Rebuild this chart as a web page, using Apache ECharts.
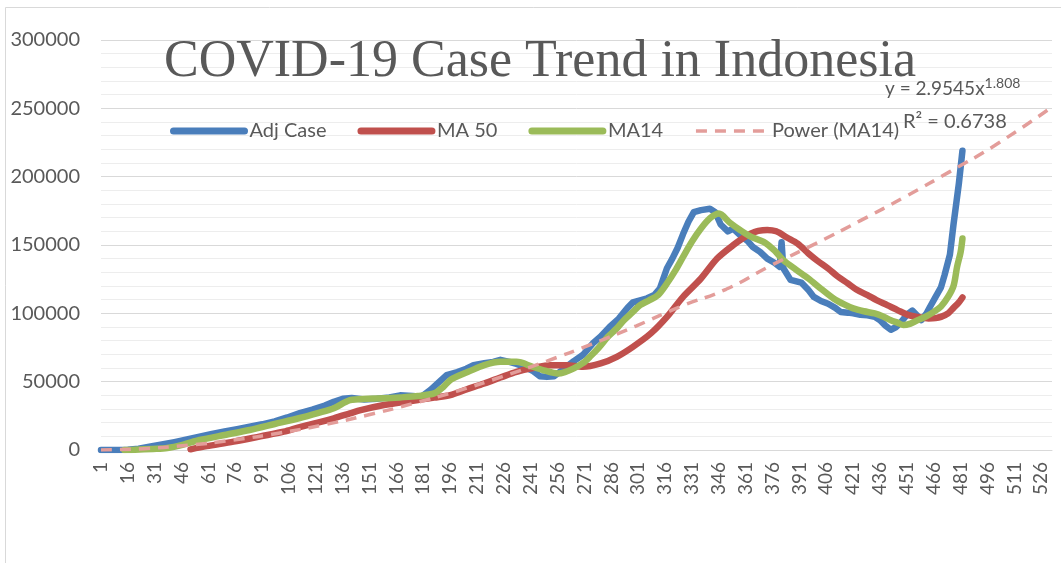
<!DOCTYPE html>
<html>
<head>
<meta charset="utf-8">
<script src="https://cdn.jsdelivr.net/npm/echarts@6/dist/echarts.min.js"></script>
<style>
html,body{margin:0;padding:0;background:#fff;}
#chart{width:1061px;height:563px;}
</style>
</head>
<body>
<div id="chart"></div>
<script>
// ---- data ----
const dayCount = 532; // categories 1..532
const yTicks = [0, 50000, 100000, 150000, 200000, 250000, 300000];

const adjDays = [1,10,16,22,28,35,42,49,56,63,70,77,84,91,98,105,112,119,126,131,136,141,148,155,162,168,175,180,185,190,194,200,205,209,215,220,224,229,233,238,242,246,250,254,258,261,265,270,273,276,280,285,290,295,298,302,306,310,313,317,320,323,326,329,332,336,341,344,347,351,354,358,362,365,369,373,377,380,381,382,386,392,396,399,403,407,411,414,418,421,425,429,433,436,439,442,445,448,451,454,457,459,462,464,467,470,472,475,477,480,482];
const adjCase = [0,0,200,1000,2400,4000,5800,7700,9700,11800,13500,15200,17000,18800,21000,23800,27000,29500,32500,35300,37500,38000,37000,37500,38500,40000,39500,39000,44000,50000,54800,57000,59500,62100,63500,64500,66000,64500,63000,60500,58000,54000,53500,54000,58000,61000,65000,69500,74000,78500,83000,90000,96000,104000,108000,109500,111000,113500,118000,133000,140000,148000,158000,167000,174000,175500,176500,174000,165000,160000,162000,157000,153000,148500,145000,140000,137000,134000,152000,133000,124500,122500,117000,112000,109000,107000,104000,101000,100500,100000,99000,98500,97500,95000,91000,88000,90000,94000,99000,102000,98000,95000,100000,105000,112000,119000,128000,143000,165000,195000,219000];

const ma50Days = [51,60,75,90,103,112,122,131,140,146,159,168,178,187,196,205,215,224,233,242,252,261,270,280,289,298,308,317,326,336,345,354,360,364,368,373,378,384,390,396,401,407,412,418,423,429,434,440,446,452,457,463,467,470,474,477,480,482];
const ma50 = [500,2800,6100,10000,13400,16800,20000,23200,26800,29200,32900,34800,36500,38300,40200,44300,48700,53000,57200,60000,62100,62000,60900,63400,68200,75500,85300,97400,112100,125500,140100,149900,155500,158400,160300,161000,160000,155500,151000,143800,138500,132800,127300,121900,117200,113300,109700,106000,102200,98700,97300,96300,96500,97400,100000,104000,108000,111600];

const ma14Days = [14,20,30,38,47,56,70,84,98,112,122,131,140,150,159,168,178,187,192,196,201,206,215,224,233,242,249,256,260,265,270,274,279,284,289,293,298,302,307,312,317,322,326,331,336,341,346,352,358,364,371,377,382,389,396,403,410,416,421,427,433,438,442,446,449,453,457,462,466,470,474,477,479,481,482];
const ma14 = [0,200,800,1500,4000,7300,11000,14600,19000,23400,27000,30500,36500,37500,37800,38500,39500,41400,46000,51200,54500,57200,62100,64500,64500,60900,58000,56000,57000,59700,63500,68200,75000,82800,89000,95000,101000,106000,109500,113300,121900,132000,141300,152500,162000,169500,173000,166500,160800,155900,152300,146000,138900,132000,125500,118000,110900,106500,103600,101500,99900,97500,95000,93000,91400,92500,95000,98000,101100,105000,112100,120000,134000,145000,154700];

const trendDays = [1,25,50,75,100,125,150,175,200,225,250,275,300,325,350,375,400,425,450,475,500,532];
const trendVals = [0,1000,3500,7300,12300,18300,25600,33900,43200,53700,65100,77500,90900,105200,117600,134900,151000,167800,185300,203700,222800,251000];

const seriesNames = ['Adj Case', 'MA 50', 'MA14', 'Power (MA14)'];
const titleText = 'COVID-19 Case Trend in Indonesia';
const eqLine1 = 'y = 2.9545x';
const eqExp = '1.808';
const eqLine2 = 'R² = 0.6738';

// ---- build ----
const categories = [];
for (let d = 1; d <= dayCount; d++) categories.push(String(d));
function pairs(days, vals) { return days.map((d, i) => [d - 1, vals[i]]); }

const textColor = '#595959';
const chart = echarts.init(document.getElementById('chart'));
chart.setOption({
  animation: false,
  backgroundColor: '#ffffff',
  title: {
    text: titleText,
    left: 159,
    top: 31,
    textStyle: { fontFamily: 'Liberation Serif', fontSize: 52, fontWeight: 'normal', color: textColor }
  },
  legend: {
    data: [
      { name: seriesNames[0] },
      { name: seriesNames[1] },
      { name: seriesNames[2] },
      { name: seriesNames[3], lineStyle: { width: 3.5, cap: 'butt' } }
    ],
    left: 165,
    top: 116,
    itemWidth: 71,
    itemHeight: 8,
    itemGap: 31,
    itemStyle: { opacity: 0 },
    lineStyle: { width: 7, cap: 'round' },
    textStyle: { fontFamily: 'Lato', fontSize: 20, color: textColor }
  },
  grid: { left: 101, right: 9, top: 40, bottom: 113, containLabel: false },
  xAxis: {
    type: 'category',
    data: categories,
    boundaryGap: false,
    axisLine: { lineStyle: { color: '#D9D9D9', width: 1 } },
    axisTick: { show: false },
    axisLabel: { interval: 14, rotate: 90, margin: 12, fontFamily: 'Lato', fontSize: 19, color: textColor }
  },
  yAxis: {
    type: 'value',
    min: yTicks[0],
    max: yTicks[yTicks.length - 1],
    interval: yTicks[1] - yTicks[0],
    axisLine: { show: false },
    axisTick: { show: false },
    axisLabel: { margin: 21, fontFamily: 'Lato', fontSize: 20, color: textColor, formatter: v => String(v) },
    splitLine: { lineStyle: { color: '#D9D9D9', width: 1 } },
    minorTick: { show: false, splitNumber: 5 },
    minorSplitLine: { show: true, lineStyle: { color: '#EDEDED', width: 1 } }
  },
  graphic: [
    { type: 'rect', shape: { x: 5.5, y: 7.5, width: 1100, height: 600 }, style: { fill: 'none', stroke: '#D9D9D9', lineWidth: 1 }, silent: true, z: -10 },
    { type: 'text', left: 885, top: 76, style: {
        text: '{a|' + eqLine1 + '}{s|' + eqExp + '}',
        rich: { a: { fontFamily: 'Lato', fontSize: 19, fill: textColor, color: textColor },
                s: { fontFamily: 'Lato', fontSize: 14, fill: textColor, color: textColor, padding: [0, 0, 11, 0] } }
      }, z: 100 },
    { type: 'text', left: 903, top: 112, style: { text: eqLine2, font: '20px Lato', fill: textColor }, z: 100 }
  ],
  series: [
    { name: seriesNames[0], type: 'line', data: pairs(adjDays, adjCase), symbol: 'none', connectNulls: true,
      lineStyle: { color: '#4A7EBB', width: 6.5, cap: 'round', join: 'round' }, itemStyle: { color: '#4A7EBB' } },
    { name: seriesNames[1], type: 'line', data: pairs(ma50Days, ma50), symbol: 'none', smooth: 0.3,
      lineStyle: { color: '#C0504D', width: 6.5, cap: 'round', join: 'round' }, itemStyle: { color: '#C0504D' } },
    { name: seriesNames[2], type: 'line', data: pairs(ma14Days, ma14), symbol: 'none', smooth: 0.3,
      lineStyle: { color: '#9BBB59', width: 6.5, cap: 'round', join: 'round' }, itemStyle: { color: '#9BBB59' } },
    { name: seriesNames[3], type: 'line', data: pairs(trendDays, trendVals), symbol: 'none', smooth: true,
      lineStyle: { color: '#E39D9A', width: 3.5, type: [11, 8] }, itemStyle: { color: '#E39D9A' } }
  ]
});
</script>
</body>
</html>
